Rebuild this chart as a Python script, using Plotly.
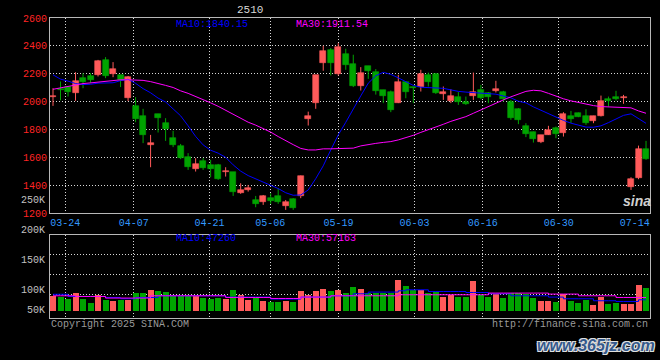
import plotly.graph_objects as go

# ---------------- data ----------------
dates = ["03-20", "03-21", "03-24", "03-25", "03-26", "03-27", "03-28", "03-31",
         "04-01", "04-02", "04-03", "04-07", "04-08", "04-09", "04-10", "04-11",
         "04-14", "04-15", "04-16", "04-17", "04-18", "04-21", "04-22", "04-23",
         "04-24", "04-25", "04-28", "04-29", "04-30", "05-06", "05-07", "05-08",
         "05-09", "05-12", "05-13", "05-14", "05-15", "05-16", "05-19", "05-20",
         "05-21", "05-22", "05-23", "05-26", "05-27", "05-28", "05-29", "05-30",
         "06-03", "06-04", "06-05", "06-06", "06-09", "06-10", "06-11", "06-12",
         "06-13", "06-16", "06-17", "06-18", "06-19", "06-20", "06-23", "06-24",
         "06-25", "06-26", "06-27", "06-30", "07-01", "07-02", "07-03", "07-04",
         "07-07", "07-08", "07-09", "07-10", "07-11", "07-14", "07-15", "07-16"]

opens = [2033, 2090, 2102, 2061, 2173, 2186, 2193, 2300, 2198, 2193,
         2030, 1970, 1898, 1692, 1913, 1850, 1738, 1683, 1604, 1518,
         1575, 1545, 1547, 1496, 1496, 1348, 1367, 1295, 1279, 1312,
         1324, 1255, 1303, 1324, 1875, 1994, 2281, 2372, 2198, 2344,
         2272, 2116, 2257, 2212, 2085, 2073, 1994, 2138, 2109, 2109,
         2193, 2200, 2054, 2006, 2033, 2001, 2044, 2085, 2061, 2078,
         2069, 2001, 1949, 1827, 1781, 1714, 1762, 1810, 1779, 1901,
         1922, 1894, 1863, 1894, 2021, 2037, 2030, 1391, 1451, 1662]
highs = [2097, 2145, 2109, 2212, 2205, 2205, 2300, 2320, 2284, 2193,
         2185, 2033, 1949, 1762, 1913, 1882, 1791, 1697, 1631, 1595,
         1595, 1583, 1554, 1530, 1496, 1415, 1403, 1324, 1331, 1344,
         1380, 1295, 1308, 1470, 1929, 2193, 2401, 2385, 2420, 2380,
         2337, 2248, 2257, 2234, 2085, 2080, 2193, 2145, 2109, 2229,
         2209, 2205, 2109, 2090, 2069, 2037, 2209, 2121, 2069, 2150,
         2078, 2013, 1954, 1846, 1786, 1762, 1827, 1822, 1925, 1934,
         1922, 1946, 1899, 2044, 2037, 2078, 2049, 1458, 1685, 1719]
lows = [1970, 2010, 2037, 2006, 2097, 2133, 2181, 2169, 2176, 2105,
        2005, 1853, 1703, 1530, 1779, 1719, 1674, 1588, 1511, 1499,
        1511, 1458, 1439, 1463, 1324, 1339, 1355, 1243, 1260, 1267,
        1267, 1224, 1224, 1308, 1829, 1949, 2222, 2188, 2188, 2229,
        2105, 2080, 2164, 2051, 1990, 1925, 1990, 2025, 1990, 2073,
        2109, 2056, 2013, 1990, 1977, 1977, 2013, 2018, 1990, 2066,
        2001, 1870, 1839, 1746, 1707, 1703, 1762, 1738, 1750, 1846,
        1889, 1834, 1846, 1894, 1965, 2008, 1985, 1367, 1444, 1583]
closes = [2040, 2082, 2073, 2150, 2145, 2157, 2293, 2188, 2234, 2157,
          2176, 1877, 1762, 1702, 1886, 1807, 1690, 1599, 1535, 1554,
          1527, 1516, 1446, 1506, 1355, 1369, 1379, 1267, 1326, 1288,
          1283, 1283, 1240, 1470, 1900, 2193, 2364, 2281, 2396, 2260,
          2116, 2209, 2221, 2078, 2044, 1942, 2138, 2073, 2097, 2198,
          2145, 2061, 2073, 2042, 1997, 1983, 2069, 2030, 2037, 2092,
          2018, 1886, 1870, 1769, 1731, 1762, 1798, 1769, 1911, 1877,
          1889, 1850, 1894, 2006, 2006, 2023, 2037, 1444, 1659, 1590]

ma10 = [2193, 2162, 2148, 2130, 2123, 2125, 2133, 2133, 2136, 2151,
        2161, 2132, 2094, 2064, 2026, 1998, 1949, 1899, 1827, 1751,
        1690, 1652, 1631, 1601, 1547, 1502, 1470, 1448, 1425, 1403,
        1377, 1347, 1329, 1331, 1367, 1448, 1540, 1654, 1762, 1852,
        1942, 2042, 2133, 2186, 2211, 2196, 2171, 2143, 2117, 2104,
        2102, 2100, 2096, 2085, 2074, 2069, 2066, 2061, 2058, 2054,
        2041, 2028, 2003, 1992, 1963, 1938, 1911, 1888, 1866, 1846,
        1830, 1818, 1817, 1827, 1850, 1877, 1902, 1913, 1882, 1845]
ma30 = [2089, 2100, 2109, 2123, 2130, 2135, 2140, 2150, 2153, 2157,
        2157, 2157, 2153, 2144, 2132, 2117, 2102, 2078, 2060, 2039,
        2017, 1992, 1967, 1939, 1913, 1884, 1853, 1832, 1807, 1782,
        1750, 1719, 1692, 1665, 1654, 1654, 1662, 1662, 1662, 1665,
        1667, 1683, 1694, 1701, 1708, 1714, 1726, 1741, 1759, 1780,
        1798, 1818, 1838, 1859, 1877, 1893, 1917, 1942, 1965, 1992,
        2013, 2035, 2053, 2074, 2082, 2078, 2060, 2039, 2021, 2006,
        1993, 1981, 1972, 1965, 1963, 1963, 1961, 1956, 1934, 1917]

volumes = [64500, 60200, 50300, 76100, 50300, 34400, 67500, 47300, 43000, 44700,
           47300, 76100, 76100, 89000, 84700, 79100, 61900, 61900, 61900, 61900,
           55900, 51600, 53300, 51600, 89000, 67500, 47300, 55900, 43000, 38700,
           38700, 43000, 38700, 84700, 67500, 84700, 93300, 84700, 89000, 77400,
           101900, 93300, 77400, 77400, 77400, 77400, 132000, 106200, 89000, 89000,
           77400, 81700, 60200, 66200, 60200, 57600, 127700, 67500, 60200, 71800,
           55900, 74800, 74800, 71800, 55900, 43000, 43000, 38700, 71800, 43000,
           34400, 46000, 24500, 60200, 28800, 34400, 28800, 28800, 110500, 97600]
vol_ma10 = [69700, 69700, 60200, 60200, 60200, 60200, 60200, 55900, 55900, 50300,
            50300, 55900, 55900, 55900, 63200, 63200, 63200, 63200, 63200, 63200,
            63200, 63200, 63200, 57600, 57600, 57600, 57600, 57600, 57600, 49000,
            49000, 49000, 49000, 57600, 57600, 57600, 57600, 63200, 63200, 63200,
            71800, 71800, 79100, 79100, 79100, 79100, 84700, 89000, 89000, 89000,
            81700, 81700, 81700, 81700, 81700, 77400, 77400, 77400, 71800, 71800,
            71800, 63200, 63200, 63200, 63200, 63200, 57600, 57600, 50300, 50300,
            50300, 50300, 41700, 41700, 41700, 38700, 38700, 38700, 46000, 46000]
vol_ma30 = [63200, 63200, 63200, 60200, 60200, 60200, 60200, 53300, 53300, 53300,
            53300, 53300, 53300, 63200, 63200, 63200, 63200, 63200, 63200, 63200,
            63200, 63200, 63200, 55900, 55900, 55900, 55900, 55900, 55900, 51600,
            51600, 51600, 51600, 57600, 57600, 57600, 57600, 63200, 63200, 63200,
            63200, 63200, 63200, 63200, 63200, 63200, 67500, 67500, 67500, 67500,
            67500, 67500, 67500, 67500, 67500, 67500, 67500, 67500, 74800, 74800,
            74800, 74800, 74800, 74800, 74800, 74800, 70500, 70500, 70500, 70500,
            63200, 63200, 63200, 63200, 63200, 55900, 55900, 55900, 55900, 55900]

date_labels = ["03-24", "04-07", "04-21", "05-06", "05-19", "06-03", "06-16", "06-30", "07-14"]
date_grid = ["03-24", "04-07", "04-21", "05-06", "05-19", "06-03", "06-16", "06-30"]
price_ticks = [1200, 1400, 1600, 1800, 2000, 2200, 2400, 2600]
vol_tick_labels = ["200K", "150K", "100K", "50K"]
title_text = "2510"
ma_main_text = ["MA10:1840.15", "MA30:1911.54"]
ma_vol_text = ["MA10:47260", "MA30:57163"]

# ---------------- styling ----------------
RED = "#ff5a5a"
GREEN = "#00a400"
BLUE = "#0000ff"
MAGENTA = "#ff00ff"
GRID = "#d8d8d8"
FRAME = "#b8b8b8"
FONT = "Liberation Mono"
DOT = "1px,2px"

n = len(dates)
xs = list(range(n))
up = [c >= o for o, c in zip(opens, closes)]
colors = [RED if u else GREEN for u in up]


def label_pos(d):
    # date label / grid position on the candle index scale
    return dates.index(d) * 1.0113 - 0.383


fig = go.Figure()

# wicks
for sel, col in ((True, RED), (False, GREEN)):
    wx, wy = [], []
    for i in range(n):
        if up[i] == sel:
            wx += [i, i, None]
            wy += [lows[i], highs[i], None]
    fig.add_trace(go.Scatter(x=wx, y=wy, mode="lines", line=dict(color=col, width=1),
                             hoverinfo="skip", xaxis="x", yaxis="y"))

# candle bodies
fig.add_trace(go.Bar(x=xs, y=[abs(c - o) for o, c in zip(opens, closes)],
                     base=[min(o, c) for o, c in zip(opens, closes)],
                     width=0.8, marker=dict(color=colors, line=dict(color=colors, width=0.6)),
                     xaxis="x", yaxis="y"))

# moving averages (price)
fig.add_trace(go.Scatter(x=xs, y=ma10, mode="lines", line=dict(color=BLUE, width=1),
                         xaxis="x", yaxis="y"))
fig.add_trace(go.Scatter(x=xs, y=ma30, mode="lines", line=dict(color=MAGENTA, width=1),
                         xaxis="x", yaxis="y"))

# volume
fig.add_trace(go.Bar(x=xs, y=volumes, width=0.8, marker=dict(color=colors, line=dict(width=0)),
                     xaxis="x2", yaxis="y2"))
fig.add_trace(go.Scatter(x=xs, y=vol_ma10, mode="lines", line=dict(color=BLUE, width=1, shape="hv"),
                         xaxis="x2", yaxis="y2"))
fig.add_trace(go.Scatter(x=xs, y=vol_ma30, mode="lines", line=dict(color=MAGENTA, width=1, shape="hv"),
                         xaxis="x2", yaxis="y2"))

grid_x = [label_pos(d) for d in date_grid]
tick_x = [label_pos(d) for d in date_labels]

VOL_PER_PX = 4300.0
vol_range = [-7.6 * VOL_PER_PX, 76.0 * VOL_PER_PX]
vol_grid = [55.7 * VOL_PER_PX, 35.7 * VOL_PER_PX, 15.7 * VOL_PER_PX]

common_x = dict(range=[-0.4, 79.53], showline=True, linecolor=FRAME, linewidth=1, mirror=True,
                zeroline=False, showgrid=False, ticks="",
                minor=dict(tickvals=grid_x, showgrid=True, gridcolor=GRID, griddash=DOT,
                           gridwidth=1, ticks=""))

fig.update_layout(
    width=660, height=360,
    margin=dict(l=50, r=10, t=18, b=42),
    paper_bgcolor="black", plot_bgcolor="black",
    showlegend=False, bargap=0,
    font=dict(family=FONT, size=10, color="#c8c8c8"),
    xaxis=dict(domain=[0, 1], anchor="y", tickmode="array", tickvals=tick_x, ticktext=date_labels,
               tickfont=dict(family=FONT, size=10, color="#3399ff"), **common_x),
    yaxis=dict(domain=[0.349, 1], anchor="x", range=[1199.5, 2600.5], tickmode="array",
               tickvals=price_ticks, ticktext=[str(v) for v in price_ticks],
               tickfont=dict(family=FONT, size=10, color="#ff2424"),
               showgrid=True, gridcolor=GRID, griddash=DOT, gridwidth=1,
               showline=True, linecolor=FRAME, linewidth=1, mirror=True, zeroline=False, ticks=""),
    xaxis2=dict(domain=[0, 1], anchor="y2", matches="x", showticklabels=False, **common_x),
    yaxis2=dict(domain=[0, 0.2777], anchor="x2", range=vol_range, tickmode="array",
                tickvals=vol_grid, ticktext=["", "", ""], showticklabels=False,
                showgrid=True, gridcolor=GRID, griddash=DOT, gridwidth=1,
                showline=True, linecolor=FRAME, linewidth=1, mirror=True, zeroline=False, ticks=""),
)


def px_x(p):
    return (p - 50) / 600.0


def px_y(p):
    return (318 - p) / 300.0


ann = []
ann.append(dict(text=title_text, x=px_x(250), y=px_y(10), font=dict(color="#d8d8d8", size=11),
                xanchor="center", yanchor="middle"))
ann.append(dict(text=ma_main_text[0], x=px_x(174), y=px_y(24), font=dict(color=BLUE, size=10),
                xanchor="left", yanchor="middle"))
ann.append(dict(text=ma_main_text[1], x=px_x(294), y=px_y(24), font=dict(color=MAGENTA, size=10),
                xanchor="left", yanchor="middle"))
ann.append(dict(text=ma_vol_text[0], x=px_x(174), y=px_y(238), font=dict(color=BLUE, size=10),
                xanchor="left", yanchor="middle"))
ann.append(dict(text=ma_vol_text[1], x=px_x(294), y=px_y(238), font=dict(color=MAGENTA, size=10),
                xanchor="left", yanchor="middle"))
for lab, py in zip(vol_tick_labels, [230.7, 260.7, 290.7, 310.7]):
    ann.append(dict(text=lab, x=px_x(47), y=px_y(py), font=dict(color="#c0c0c0", size=10),
                    xanchor="right", yanchor="middle"))
ann.append(dict(text="250K", x=px_x(47), y=px_y(200), font=dict(color="#c0c0c0", size=10),
                xanchor="right", yanchor="middle"))
ann.append(dict(text="Copyright 2025 SINA.COM", x=px_x(49), y=px_y(324),
                font=dict(color="#9a9a9a", size=10), xanchor="left", yanchor="middle"))
ann.append(dict(text="http://finance.sina.com.cn", x=px_x(650), y=px_y(324),
                font=dict(color="#9a9a9a", size=10), xanchor="right", yanchor="middle"))
ann.append(dict(text="sina", x=px_x(637), y=px_y(201),
                font=dict(family="Liberation Sans", color="#d0d0d0", size=14, weight="bold", style="italic"),
                xanchor="center", yanchor="middle"))
ann.append(dict(text="www.365jz.com", x=px_x(596), y=px_y(345),
                font=dict(family="Liberation Sans", color="#34598c", size=16, weight="bold", style="italic",
                          shadow="1px 1px 0 #e0e0e0, -1px -1px 0 #e0e0e0, 1px -1px 0 #e0e0e0, -1px 1px 0 #e0e0e0"),
                xanchor="center", yanchor="middle"))
for a in ann:
    a.update(xref="paper", yref="paper", showarrow=False)
fig.update_layout(annotations=ann)

fig.write_html("out.html", config={"displayModeBar": False},
               post_script="document.body.style.margin='0';document.body.style.background='black';")
